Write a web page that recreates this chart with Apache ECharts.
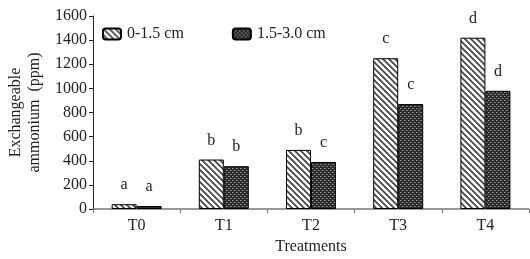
<!DOCTYPE html>
<html>
<head>
<meta charset="utf-8">
<script src="https://cdn.jsdelivr.net/npm/echarts@6/dist/echarts.min.js"></script>
<style>
  html, body { margin: 0; padding: 0; background: #fff; }
  #chart { width: 530px; height: 259px; }
</style>
</head>
<body>
<div id="chart"></div>
<script>
const categories = ['T0', 'T1', 'T2', 'T3', 'T4']
const seriesNames = ['0-1.5 cm', '1.5-3.0 cm']
const shallowValues = [40, 410, 490, 1250, 1420]
const deepValues = [25, 355, 390, 870, 980]
const shallowLetters = ['a', 'b', 'b', 'c', 'd']
const deepLetters = ['a', 'b', 'c', 'c', 'd']
const yTicks = [0, 1600, 200] // min, max, interval

const font = '"Liberation Serif", "Times New Roman", serif'

// diagonal hatch, white with dark stripes
function hatchPattern() {
    const c = document.createElement('canvas')
    c.width = 6
    c.height = 6
    const ctx = c.getContext('2d')
    ctx.fillStyle = '#fff'
    ctx.fillRect(0, 0, 6, 6)
    ctx.strokeStyle = '#444'
    ctx.lineWidth = 1.7
    ctx.beginPath()
    ctx.moveTo(-1, -1); ctx.lineTo(7, 7)
    ctx.moveTo(-4, 2); ctx.lineTo(4, 10)
    ctx.moveTo(2, -4); ctx.lineTo(10, 4)
    ctx.stroke()
    return c
}

// dark checker with light dots
function checkPattern() {
    const c = document.createElement('canvas')
    c.width = 4
    c.height = 4
    const ctx = c.getContext('2d')
    ctx.fillStyle = '#2a2a2a'
    ctx.fillRect(0, 0, 4, 4)
    ctx.fillStyle = '#9a9a9a'
    ctx.fillRect(0, 0, 1, 1)
    ctx.fillRect(2, 2, 1, 1)
    ctx.fillStyle = '#666'
    ctx.fillRect(1, 0, 1, 1)
    ctx.fillRect(3, 2, 1, 1)
    return c
}

function labelled(values, letters) {
    return values.map((v, i) => ({ value: v, label: { formatter: letters[i] } }))
}

const chart = echarts.init(document.getElementById('chart'))

const barLabel = {
    show: true,
    position: 'top',
    distance: 11,
    fontFamily: font,
    fontSize: 16,
    color: '#222'
}

chart.setOption({
    animation: false,
    textStyle: { fontFamily: font },
    grid: { left: 93, right: 1, top: 16, bottom: 50, containLabel: false, outerBoundsMode: 'none' },
    legend: {
        left: 102,
        top: 26,
        padding: 0,
        itemWidth: 18,
        itemHeight: 11,
        itemGap: 48,
        textStyle: { fontFamily: font, fontSize: 16, color: '#222', padding: [0, 0, 0, 1] },
        data: seriesNames
    },
    xAxis: {
        type: 'category',
        data: categories,
        name: 'Treatments',
        nameLocation: 'middle',
        nameGap: 30,
        nameTextStyle: { fontFamily: font, fontSize: 16, color: '#222' },
        axisLine: { lineStyle: { color: '#777', width: 1.5 } },
        axisTick: { show: true, length: 4, lineStyle: { color: '#777' } },
        axisLabel: { fontFamily: font, fontSize: 16, color: '#222', margin: 9 }
    },
    yAxis: {
        type: 'value',
        min: yTicks[0],
        max: yTicks[1],
        interval: yTicks[2],
        name: 'Exchangeable\nammonium  (ppm)',
        nameLocation: 'middle',
        nameGap: 42,
        nameRotate: 90,
        nameTextStyle: { fontFamily: font, fontSize: 16, color: '#222', lineHeight: 19 },
        splitLine: { show: false },
        axisLine: { show: true, lineStyle: { color: '#222' } },
        axisTick: { show: true, length: 4, lineStyle: { color: '#222' } },
        axisLabel: { fontFamily: font, fontSize: 16, color: '#222', margin: 6, formatter: v => String(v) }
    },
    series: [
        {
            name: seriesNames[0],
            type: 'bar',
            barWidth: 25,
            barGap: '0%',
            barCategoryGap: '42%',
            itemStyle: { color: { image: hatchPattern(), repeat: 'repeat' }, borderColor: '#000', borderWidth: 1 },
            label: barLabel,
            data: labelled(shallowValues, shallowLetters)
        },
        {
            name: seriesNames[1],
            type: 'bar',
            barWidth: 25,
            barGap: '0%',
            itemStyle: { color: { image: checkPattern(), repeat: 'repeat' }, borderColor: '#000', borderWidth: 1 },
            label: barLabel,
            data: labelled(deepValues, deepLetters)
        }
    ]
})
</script>
</body>
</html>
